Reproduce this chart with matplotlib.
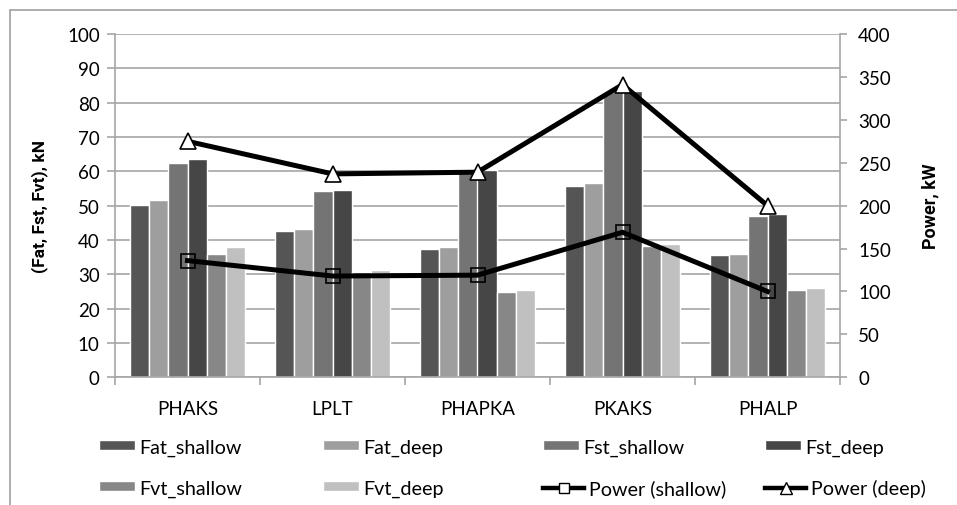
import numpy as np
import matplotlib.pyplot as plt
from matplotlib.patches import Rectangle
from matplotlib.lines import Line2D

plt.rcParams['font.family'] = ['Lato', 'DejaVu Sans']

sites = ['PHAKS', 'LPLT', 'PHAPKA', 'PKAKS', 'PHALP']
fat_shallow = [50.3, 42.7, 37.5, 55.6, 35.5]
fat_deep = [51.7, 43.2, 37.9, 56.6, 36.0]
fst_shallow = [62.3, 54.2, 59.8, 83.0, 47.1]
fst_deep = [63.7, 54.7, 60.4, 83.4, 47.5]
fvt_shallow = [36.0, 30.7, 24.9, 38.3, 25.4]
fvt_deep = [37.9, 31.2, 25.4, 38.8, 26.0]
power_shallow = [136, 118, 119, 169, 100]
power_deep = [275, 237, 239, 341, 200]

bar_names = ['Fat_shallow', 'Fat_deep', 'Fst_shallow', 'Fst_deep', 'Fvt_shallow', 'Fvt_deep']
bar_colors = ['#555555', '#9e9e9e', '#747474', '#464646', '#878787', '#c0c0c0']
bar_data = [fat_shallow, fat_deep, fst_shallow, fst_deep, fvt_shallow, fvt_deep]

grid_col = '#a6a6a6'
fs = 13.5

fig = plt.figure(figsize=(9.57, 5.06), dpi=100)
fig.patches.append(Rectangle((10 / 957, -0.1), 1.2, 1 - 11 / 506 + 0.1,
                             transform=fig.transFigure, fill=False,
                             edgecolor='#a0a0a0', linewidth=1.2))

ax = fig.add_axes([115 / 957, 1 - 378.3 / 506, 725 / 957, 343.3 / 506])
x = np.arange(len(sites))
w = 0.132
for i, (name, vals, c) in enumerate(zip(bar_names, bar_data, bar_colors)):
    ax.bar(x + (i - 2.5) * w, vals, width=w, color=c, edgecolor='white',
           linewidth=1.0, label=name, zorder=2)

ax.set_xlim(-0.5, len(sites) - 0.5)
ax.set_ylim(0, 100)
ax.set_yticks(np.arange(0, 101, 10))
ax.yaxis.grid(True, color=grid_col, linewidth=1.2, zorder=0)
ax.set_axisbelow(True)
ax.set_xticks(x)
ax.set_xticklabels(sites, fontsize=fs)
ax.set_xticks(np.arange(-0.5, len(sites)), minor=True)
ax.tick_params(axis='x', which='major', length=0, pad=16)
ax.tick_params(axis='x', which='minor', length=6, color=grid_col, width=1.2)
ax.tick_params(axis='y', length=6, color=grid_col, width=1.2, labelsize=fs, pad=5)
for s in ['top', 'right']:
    ax.spines[s].set_visible(False)
for s in ['left', 'bottom']:
    ax.spines[s].set_color(grid_col)
    ax.spines[s].set_linewidth(1.2)
ax.set_ylabel('(Fat, Fst, Fvt), kN', fontsize=12.5, fontweight='bold',
              family=['Roboto', 'DejaVu Sans'], labelpad=14)

ax2 = ax.twinx()
ax2.set_ylim(0, 400)
ax2.set_yticks(np.arange(0, 401, 50))
ax2.plot(x, power_shallow, color='black', linewidth=3.6, marker='s', markersize=9.5,
         markerfacecolor='none', markeredgecolor='black', markeredgewidth=1.2,
         label='Power (shallow)', zorder=3)
ax2.plot(x, power_deep, color='black', linewidth=3.6, marker='^', markersize=11,
         markerfacecolor='white', markeredgecolor='black', markeredgewidth=1.2,
         label='Power (deep)', zorder=3)
ax2.tick_params(axis='y', length=5, color=grid_col, width=1.2, labelsize=fs, pad=8)
for s in ['top', 'left', 'bottom']:
    ax2.spines[s].set_visible(False)
ax2.spines['right'].set_color(grid_col)
ax2.spines['right'].set_linewidth(1.2)
ax2.set_ylabel('Power, kW', fontsize=13, fontweight='bold',
               family=['Roboto', 'DejaVu Sans'], labelpad=22)

bh, bl = ax.get_legend_handles_labels()
lh = [Line2D([], [], color='black', linewidth=3.2, marker='s', markersize=7.5,
             markerfacecolor='white', markeredgecolor='black', markeredgewidth=1.0),
      Line2D([], [], color='black', linewidth=3.2, marker='^', markersize=8,
             markerfacecolor='white', markeredgecolor='black', markeredgewidth=1.0)]
ll = ['Power (shallow)', 'Power (deep)']

# legend entries: Excel-style grid, 4 equal columns, 2 rows
order_h = bh[:4] + bh[4:] + lh
order_l = bl[:4] + bl[4:] + ll
col_x = [99, 323, 543, 765]
row_y = [448, 489]
for k, (h, l) in enumerate(zip(order_h, order_l)):
    is_line = isinstance(h, Line2D)
    fig.legend([h], [l], loc='center left',
               bbox_to_anchor=(col_x[k % 4] / 957, 1 - row_y[k // 4] / 506),
               frameon=False, fontsize=14.2,
               handlelength=2.1 if is_line else 1.8, handleheight=0.42,
               handletextpad=0.25, borderaxespad=0, borderpad=0)

fig.savefig('out.png', dpi=100)
